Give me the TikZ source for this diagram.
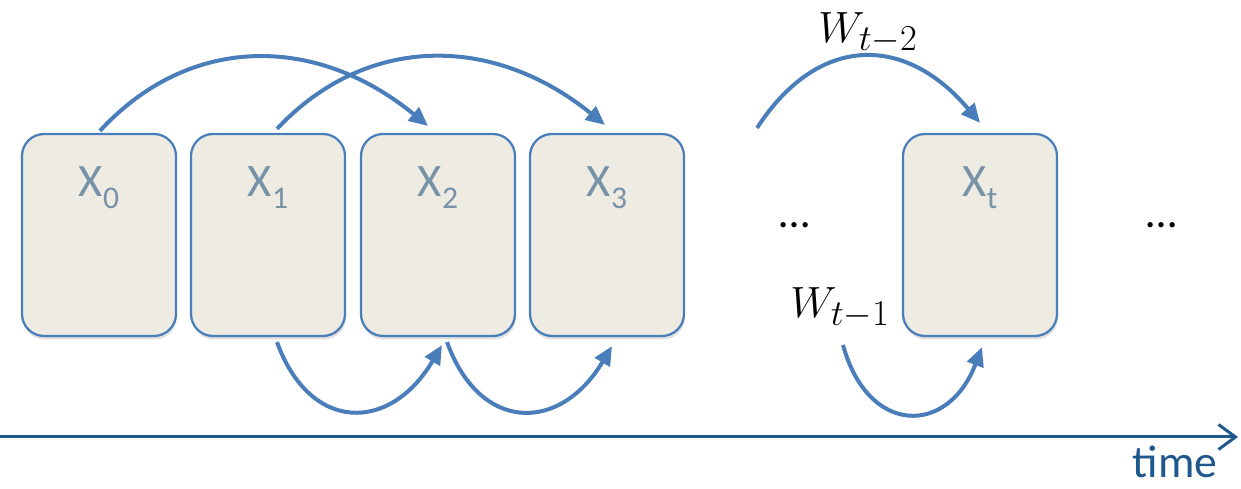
\documentclass[tikz,border=0pt]{standalone}
\usepackage{fontspec}
\setmainfont{Carlito}
\usetikzlibrary{calc,arrows.meta,shadows}

\definecolor{boxfill}{RGB}{237,235,226}
\definecolor{boxline}{RGB}{74,126,187}
\definecolor{lblgray}{RGB}{120,146,168}
\definecolor{timeblue}{RGB}{31,88,140}

\tikzset{
  statebox/.style={draw=boxline,line width=0.045cm,fill=boxfill,rounded corners=0.44cm,
    minimum width=3.08cm,minimum height=4.04cm,
    drop shadow={opacity=0.25,shadow xshift=0.5pt,shadow yshift=-2pt}},
  statelab/.style={text=lblgray,font=\fontsize{26.5}{30}\selectfont,anchor=base,inner sep=0pt},
  trans/.style={draw=boxline,line width=0.08cm,-{Triangle[length=0.38cm,width=0.34cm]}},
  wlab/.style={font=\fontsize{29}{32}\selectfont,inner sep=0pt},
  dots/.style={font=\fontsize{25}{30}\selectfont}
}
\newcommand{\xsub}[1]{X\lower0.24em\hbox{\fontsize{18}{20}\selectfont #1}}

\begin{document}
\begin{tikzpicture}[x=0.02cm,y=-0.02cm]
\useasboundingbox (0,0) rectangle (1241,489);

% states
\node[statebox] (x0) at (99,235) {};
\node[statebox] (x1) at (268,235) {};
\node[statebox] (x2) at (438,235) {};
\node[statebox] (x3) at (607,235) {};
\node[statebox] (xt) at (980,235) {};

\node[statelab] (lx0) at (99,197) {\xsub{0}};
\node[statelab] (lx1) at (268,197) {\xsub{1}};
\node[statelab] (lx2) at (438,197) {\xsub{2}};
\node[statelab] (lx3) at (607,197) {\xsub{3}};
\node[statelab] (lxt) at (980,197) {\xsub{t}};

\node[dots] (d1) at (795,225) {\dots};
\node[dots] (d2) at (1162,225) {\dots};

% free ends of the W arcs
\coordinate (wa) at (757,128);
\coordinate (wb) at (843,345);

% top arcs
\draw[trans] ($(x0.north)+(1,-2)$) .. controls (189,34) and (316,34) .. ($(x2.north)+(-10,-7)$);
\draw[trans] ($(x1.north)+(9,-4)$) .. controls (366,34) and (493,34) .. ($(x3.north)+(-2,-8)$);
\draw[trans] (wa) .. controls (818,34) and (905,34) .. ($(xt.north)+(0,-10)$);

% bottom arcs
\draw[trans] ($(x1.south)+(9,5)$) .. controls (310,433) and (390,433) .. ($(x2.south)+(4,8)$);
\draw[trans] ($(x2.south)+(9,5)$) .. controls (480,433) and (560,433) .. ($(x3.south)+(5,9)$);
\draw[trans] (wb) .. controls (868,436) and (948,436) .. ($(xt.south)+(2,10)$);

\node[wlab] (w2) at (868,33) {$W_{t-2}$};
\node[wlab] (w1) at (840,308) {$W_{t-1}$};

% time axis
\coordinate (ta) at (0,437);
\coordinate (tb) at (1238,437);
\draw[timeblue,line width=0.06cm,-{Straight Barb[length=0.34cm,width=0.5cm]}] (ta) -- (tb);
\node[text=timeblue,font=\fontsize{26}{30}\selectfont,anchor=base] (tl) at (1175,478) {time};
\end{tikzpicture}
\end{document}
